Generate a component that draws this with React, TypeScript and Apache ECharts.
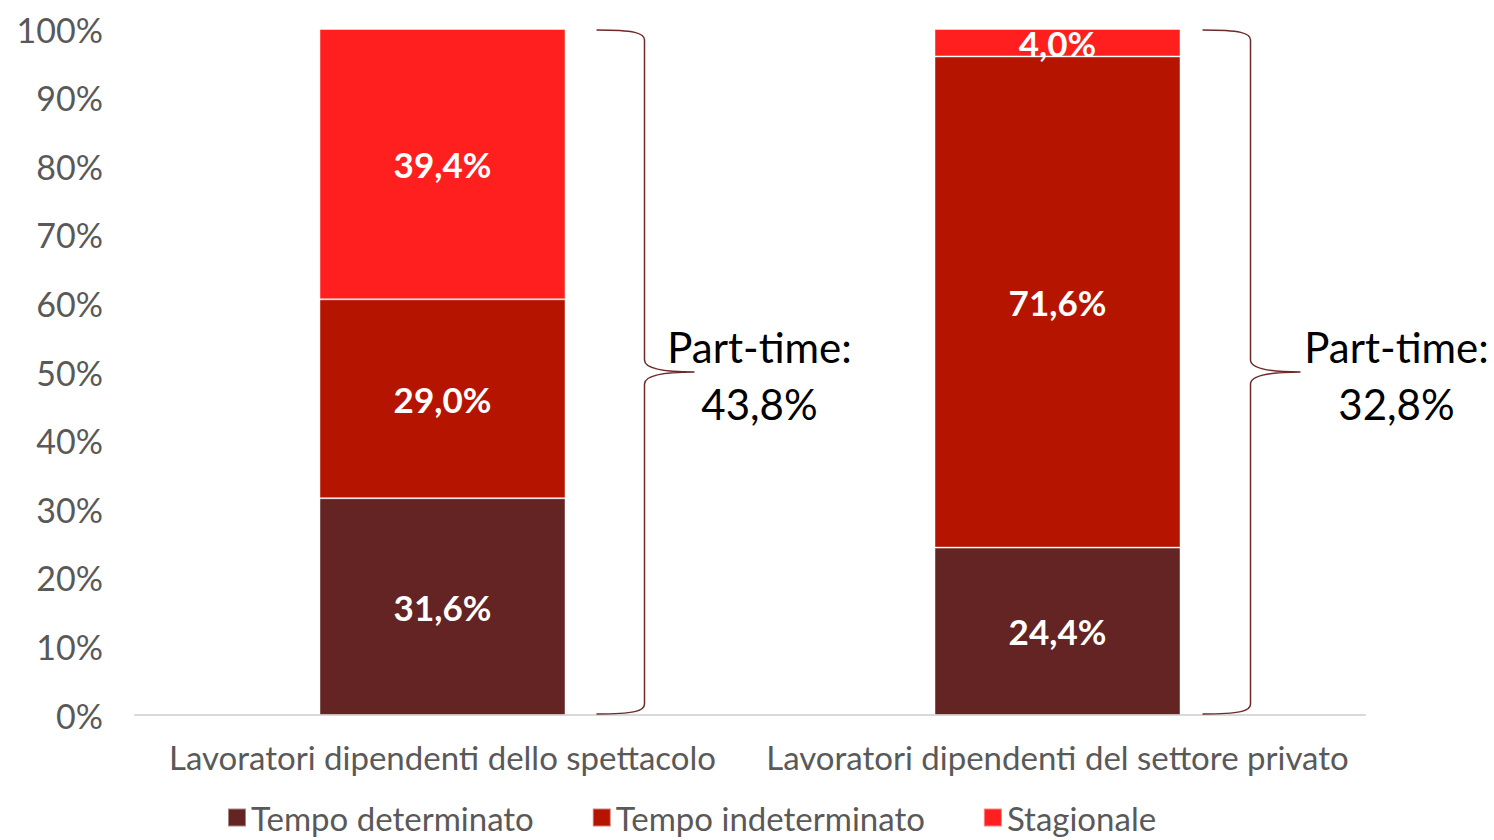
import React, { useEffect, useRef } from "react";
import * as echarts from "echarts";

const categories = [
  "Lavoratori dipendenti dello spettacolo",
  "Lavoratori dipendenti del settore privato",
];
const tempoDeterminato = [31.6, 24.4];
const tempoIndeterminato = [29.0, 71.6];
const stagionale = [39.4, 4.0];
const partTime = [43.8, 32.8];
const yTicks = [0, 10, 20, 30, 40, 50, 60, 70, 80, 90, 100];

const FONT = "Lato, 'Noto Sans', sans-serif";
const fmt = (v: number) => v.toFixed(1).replace(".", ",") + "%";

// layout only: brace horizontal shift and label centre offset from brace tip
const braceShift = [0, -9];
const braceLabelOffset = [65, 96];

export default function App() {
  const ref = useRef<HTMLDivElement>(null);
  useEffect(() => {
    if (!ref.current) return;
    const chart = echarts.init(ref.current, undefined, { renderer: "svg" });
    const barLabel = {
      show: true,
      position: "inside" as const,
      color: "#ffffff",
      fontFamily: FONT,
      fontWeight: "bold" as const,
      fontSize: 35,
      formatter: (p: any) => fmt(p.value),
    };
    const itemBorder = { borderColor: "rgba(255,255,255,0.45)", borderWidth: 1 };
    chart.setOption({
      animation: false,
      grid: { left: 135, right: 129, top: 29, bottom: 125, containLabel: false },
      legend: {
        left: 222,
        top: 796,
        itemWidth: 18,
        itemHeight: 18,
        itemGap: 58,
        icon: "rect",
        textStyle: { fontFamily: FONT, fontSize: 33, color: "#595959" },
        data: ["Tempo determinato", "Tempo indeterminato", "Stagionale"],
      },
      xAxis: {
        type: "category",
        data: categories,
        axisLine: { show: true, lineStyle: { color: "#d9d9d9", width: 2 } },
        axisTick: { show: false },
        axisLabel: {
          fontFamily: FONT,
          fontSize: 33,
          color: "#595959",
          margin: 25,
          interval: 0,
        },
      },
      yAxis: {
        type: "value",
        min: 0,
        max: 100,
        interval: 10,
        axisLine: { show: false },
        axisTick: { show: false },
        splitLine: { show: false },
        axisLabel: {
          fontFamily: FONT,
          fontSize: 34,
          color: "#595959",
          margin: 32,
          formatter: (v: number) => (yTicks.includes(v) ? v + "%" : ""),
        },
      },
      series: [
        {
          name: "Tempo determinato",
          type: "bar",
          stack: "tot",
          barWidth: "40%",
          data: tempoDeterminato,
          itemStyle: { color: "#632423", ...itemBorder },
          label: barLabel,
        },
        {
          name: "Tempo indeterminato",
          type: "bar",
          stack: "tot",
          barWidth: "40%",
          data: tempoIndeterminato,
          itemStyle: { color: "#B51500", ...itemBorder },
          label: barLabel,
        },
        {
          name: "Stagionale",
          type: "bar",
          stack: "tot",
          barWidth: "40%",
          data: stagionale,
          itemStyle: { color: "#FF1F1F", ...itemBorder },
          label: barLabel,
        },
        {
          name: "Part-time",
          type: "custom",
          silent: true,
          z: 10,
          data: partTime.map((v, i) => [i, v]),
          renderItem: (params: any, api: any) => {
            const idx = api.value(0);
            const pct = api.value(1);
            const i = params.dataIndex;
            const top = api.coord([idx, 100]);
            const bot = api.coord([idx, 0]);
            const band = api.size([1, 0])[0];
            const barRight = top[0] + band * 0.2 + braceShift[i];
            const L = barRight + 31;
            const V = barRight + 79;
            const T = barRight + 129;
            const yT = top[1] + 1;
            const yB = bot[1] - 1;
            const M = (yT + yB) / 2;
            const d =
              `M${L},${yT} C${V - 10},${yT} ${V},${yT + 3} ${V},${yT + 10} ` +
              `L${V},${M - 12} C${V},${M - 3} ${V + 20},${M} ${T},${M} ` +
              `M${V},${M + 12} C${V},${M + 3} ${V + 20},${M} ${T},${M} ` +
              `M${V},${M + 12} L${V},${yB - 10} C${V},${yB - 3} ${V - 10},${yB} ${L},${yB}`;
            return {
              type: "group",
              children: [
                {
                  type: "path",
                  shape: { pathData: d },
                  style: { stroke: "#6e2a2a", fill: "none", lineWidth: 1.5 },
                },
                {
                  type: "text",
                  style: {
                    text: "Part-time:\n" + fmt(pct),
                    x: T + braceLabelOffset[i],
                    y: M + 3,
                    align: "center",
                    verticalAlign: "middle",
                    fontFamily: FONT,
                    fontSize: 42,
                    lineHeight: 57,
                    fill: "#000000",
                  },
                },
              ],
            };
          },
        },
      ],
    });
    return () => chart.dispose();
  }, []);
  return (
    <div
      ref={ref}
      style={{ position: "fixed", left: 0, top: 0, width: 1494, height: 840, background: "#fff" }}
    />
  );
}
